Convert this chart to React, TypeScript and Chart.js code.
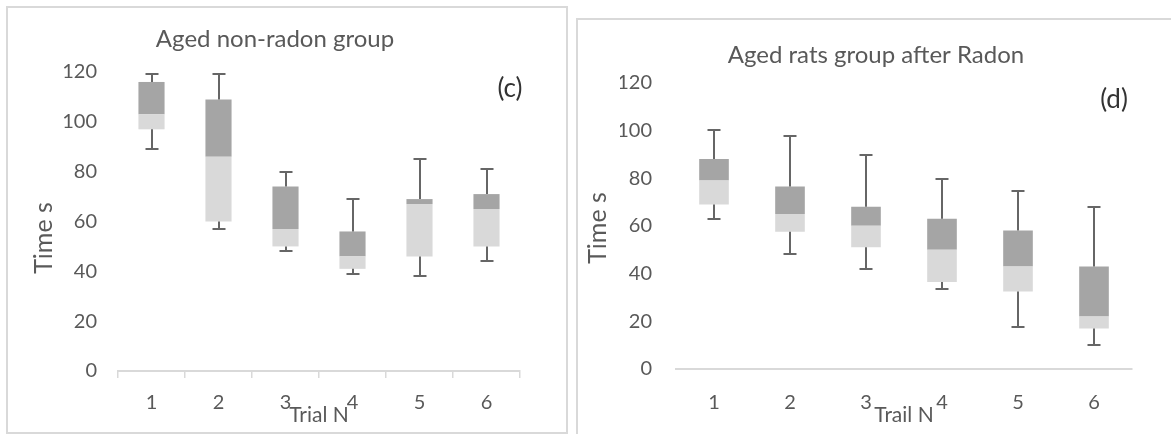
import React, { useEffect, useRef } from "react";
import { Chart, registerables } from "chart.js";

Chart.register(...registerables);

// ---------- data ----------
const trials = ["1", "2", "3", "4", "5", "6"];
const yTickStep = 20;
const yMin = 0;
const yMax = 120;

// (c) Aged non-radon group
const cMin = [89, 57, 48, 39, 38, 44];
const cQ1 = [97, 60, 50, 41, 46, 50];
const cMedian = [103, 86, 57, 46, 67, 65];
const cQ3 = [116, 109, 74, 56, 69, 71];
const cMax = [119, 119, 80, 69, 85, 81];

// (d) Aged rats group after Radon
const dMin = [63, 48, 42, 33.5, 17.5, 10];
const dQ1 = [69, 57.5, 51, 36.5, 32.5, 17];
const dMedian = [79, 65, 60, 50, 43, 22];
const dQ3 = [88, 76.5, 68, 63, 58, 43];
const dMax = [100, 97.5, 89.5, 79.5, 74.5, 68];

// ---------- styles ----------
const FONT = "Lato, 'Noto Sans', sans-serif";
const TXT = "#595959";
const LETTER = "#333333";
const AXIS = "#d9d9d9";
const DARK = "#a5a5a5";
const LIGHT = "#d9d9d9";
const WHISKER = "#666666";
const CAP = 6.5;

type Panel = {
  title: string;
  letter: string;
  xTitle: string;
  yTitle: string;
  min: number[];
  q1: number[];
  med: number[];
  q3: number[];
  max: number[];
  left: number;
  width: number;
  height: number;
  padLeft: number;
  padRight: number;
  yWidth: number;
  xHeight: number;
  titlePad: { top: number; bottom: number };
  yTickPad: number;
  xTickPad: number;
  xTicks: boolean;
  xTitlePadBottom: number;
  yTitlePos: [number, number];
  letterPos: [number, number];
};

const panelC: Panel = {
  title: "Aged non-radon group",
  letter: "(c)",
  xTitle: "Trial N",
  yTitle: "Time s",
  min: cMin,
  q1: cQ1,
  med: cMedian,
  q3: cQ3,
  max: cMax,
  left: 0,
  width: 570,
  height: 434,
  padLeft: 30,
  padRight: 50,
  yWidth: 88,
  xHeight: 63,
  titlePad: { top: 24.6, bottom: 18.6 },
  yTickPad: 21,
  xTickPad: 13,
  xTicks: true,
  xTitlePadBottom: 6.4,
  yTitlePos: [44, 238],
  letterPos: [510, 89],
};

const panelD: Panel = {
  title: "Aged rats group after Radon",
  letter: "(d)",
  xTitle: "Trail N",
  yTitle: "Time s",
  min: dMin,
  q1: dQ1,
  med: dMedian,
  q3: dQ3,
  max: dMax,
  left: 580,
  width: 591,
  height: 434,
  padLeft: 40,
  padRight: 39,
  yWidth: 56,
  xHeight: 65,
  titlePad: { top: 40.6, bottom: 13.3 },
  yTickPad: 24,
  xTickPad: 22,
  xTicks: false,
  xTitlePadBottom: 6.4,
  yTitlePos: [18, 228],
  letterPos: [534, 100],
};

function BoxPanel({ p }: { p: Panel }) {
  const ref = useRef<HTMLCanvasElement | null>(null);

  useEffect(() => {
    const canvas = ref.current;
    if (!canvas) return;

    const whiskers = {
      id: "whiskers",
      afterDatasetsDraw(chart: any) {
        const { ctx } = chart;
        const x = chart.scales.x;
        const y = chart.scales.y;
        ctx.save();
        ctx.strokeStyle = WHISKER;
        ctx.lineWidth = 2;
        for (let i = 0; i < trials.length; i++) {
          const cx = Math.round(x.getPixelForValue(i));
          const segs: [number, number][] = [
            [p.q3[i], p.max[i]],
            [p.q1[i], p.min[i]],
          ];
          for (const [from, to] of segs) {
            const y0 = y.getPixelForValue(from);
            const y1 = Math.round(y.getPixelForValue(to));
            ctx.beginPath();
            ctx.moveTo(cx, y0);
            ctx.lineTo(cx, y1);
            ctx.moveTo(cx - CAP, y1);
            ctx.lineTo(cx + CAP, y1);
            ctx.stroke();
          }
        }
        ctx.restore();
      },
    };

    const panelText = {
      id: "panelText",
      afterDraw(chart: any) {
        const { ctx } = chart;
        ctx.save();
        ctx.textAlign = "center";
        ctx.textBaseline = "middle";
        ctx.fillStyle = TXT;
        ctx.font = `25px ${FONT}`;
        ctx.translate(p.yTitlePos[0], p.yTitlePos[1]);
        ctx.rotate(-Math.PI / 2);
        ctx.fillText(p.yTitle, 0, 0);
        ctx.restore();
        ctx.save();
        ctx.textAlign = "center";
        ctx.textBaseline = "middle";
        ctx.fillStyle = LETTER;
        ctx.font = `26px ${FONT}`;
        ctx.fillText(p.letter, p.letterPos[0], p.letterPos[1]);
        ctx.restore();
      },
    };

    const common = {
      grouped: false,
      barPercentage: 0.39,
      categoryPercentage: 1,
      borderWidth: 0,
      borderSkipped: false,
    };

    const chart = new Chart(canvas, {
      type: "bar",
      data: {
        labels: trials,
        datasets: [
          {
            label: "Q1–median",
            data: trials.map((_, i) => [p.q1[i], p.med[i]]),
            backgroundColor: LIGHT,
            ...common,
          },
          {
            label: "median–Q3",
            data: trials.map((_, i) => [p.med[i], p.q3[i]]),
            backgroundColor: DARK,
            ...common,
          },
        ] as any,
      },
      options: {
        animation: false,
        responsive: false,
        layout: {
          padding: { left: p.padLeft, right: p.padRight, top: 0, bottom: 0 },
        },
        plugins: {
          legend: { display: false },
          tooltip: { enabled: false },
          title: {
            display: true,
            text: p.title,
            color: TXT,
            font: { family: FONT, size: 24, weight: "normal" as any },
            padding: p.titlePad,
          },
        },
        scales: {
          x: {
            type: "category",
            offset: true,
            grid: {
              display: p.xTicks,
              drawOnChartArea: false,
              drawTicks: p.xTicks,
              tickLength: 7,
              color: AXIS,
              lineWidth: 1.5,
              offset: true,
            },
            border: { display: true, color: AXIS, width: 2 },
            ticks: {
              color: TXT,
              font: { family: FONT, size: 20 },
              padding: p.xTickPad,
              maxRotation: 0,
            },
            title: {
              display: true,
              text: p.xTitle,
              color: TXT,
              font: { family: FONT, size: 21 },
              padding: { top: 0, bottom: p.xTitlePadBottom },
            },
            afterFit: (s: any) => {
              s.height = p.xHeight;
            },
          },
          y: {
            min: yMin,
            max: yMax,
            grid: { display: false, drawTicks: false },
            border: { display: false },
            ticks: {
              stepSize: yTickStep,
              color: TXT,
              font: { family: FONT, size: 20 },
              padding: p.yTickPad,
            },
            afterFit: (s: any) => {
              s.width = p.yWidth;
            },
          },
        },
      } as any,
      plugins: [whiskers, panelText],
    });

    return () => chart.destroy();
  }, [p]);

  return (
    <canvas
      ref={ref}
      width={p.width}
      height={p.height}
      style={{
        position: "absolute",
        left: p.left,
        top: 0,
        width: p.width,
        height: p.height,
      }}
    />
  );
}

export default function App() {
  return (
    <div
      style={{
        position: "absolute",
        left: 0,
        top: 0,
        width: 1171,
        height: 434,
        overflow: "hidden",
        background: "#ffffff",
      }}
    >
      <div
        style={{
          position: "absolute",
          left: 6,
          top: 6,
          width: 562,
          height: 428,
          boxSizing: "border-box",
          border: `2px solid ${AXIS}`,
        }}
      />
      <div
        style={{
          position: "absolute",
          left: 576,
          top: 18,
          width: 700,
          height: 500,
          boxSizing: "border-box",
          border: `2px solid ${AXIS}`,
        }}
      />
      <BoxPanel p={panelC} />
      <BoxPanel p={panelD} />
    </div>
  );
}
